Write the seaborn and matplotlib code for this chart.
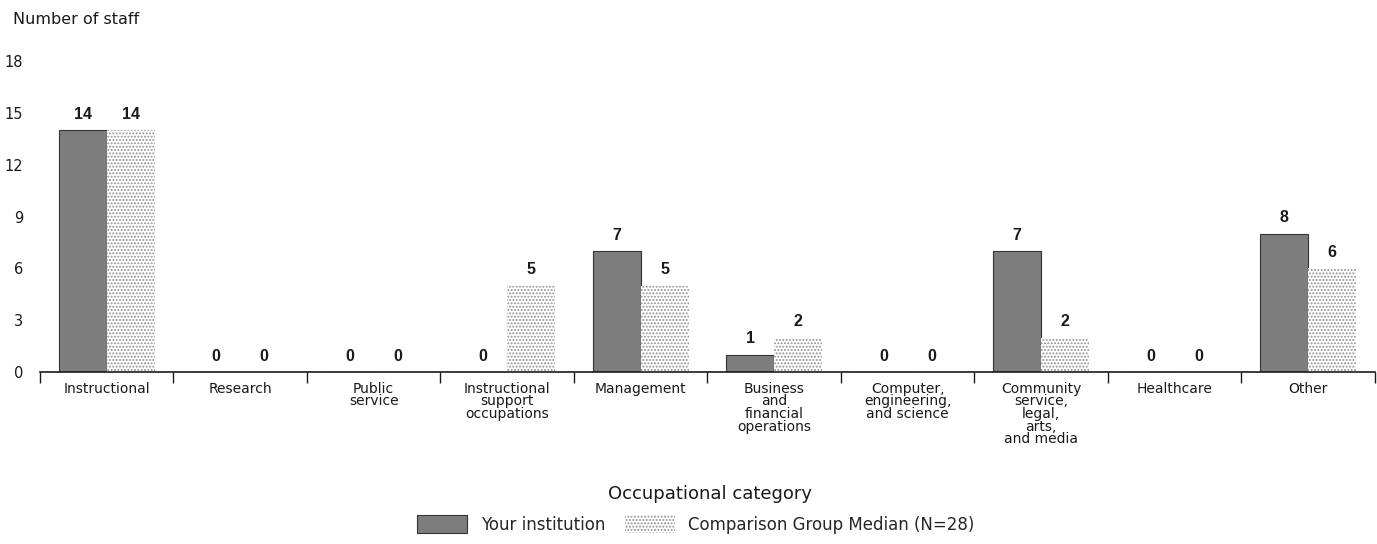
import matplotlib
matplotlib.use("Agg")
import matplotlib.pyplot as plt
import seaborn as sns
import pandas as pd
from matplotlib.ticker import FixedLocator, NullFormatter
from matplotlib.patches import Patch

categories = ["Instructional", "Research", "Public\nservice",
              "Instructional\nsupport\noccupations", "Management",
              "Business\nand\nfinancial\noperations",
              "Computer,\nengineering,\nand science",
              "Community\nservice,\nlegal,\narts,\nand media",
              "Healthcare", "Other"]
your_institution = [14, 0, 0, 0, 7, 1, 0, 7, 0, 8]
comparison_median = [14, 0, 0, 5, 5, 2, 0, 2, 0, 6]
series_names = ["Your institution", "Comparison Group Median (N=28)"]
y_ticks = [0, 3, 6, 9, 12, 15, 18]

sns.set_style("white")
plt.rcParams['font.family'] = ['DejaVu Sans']
plt.rcParams['hatch.linewidth'] = 0.9

df = pd.DataFrame({
    "category": categories * 2,
    "value": your_institution + comparison_median,
    "series": [series_names[0]] * len(categories) + [series_names[1]] * len(categories),
})

DARK = "#7d7d7d"
HATCH = "#8f8f8f"

fig = plt.figure(figsize=(13.77, 5.44), dpi=100)
ax = fig.add_axes([0.029, 0.316, 0.9695, 0.572])

sns.barplot(data=df, x="category", y="value", hue="series",
            palette=[DARK, "#ffffff"], width=0.72, ax=ax,
            legend=False, saturation=1)

cont_dark, cont_light = ax.containers[0], ax.containers[1]
for p in cont_dark:
    p.set_edgecolor("#333333")
    p.set_linewidth(0.8)
for p in cont_light:
    p.set_facecolor("white")
    p.set_edgecolor(HATCH)
    p.set_hatch(".....")
    p.set_linewidth(0)

for c in ax.containers:
    ax.bar_label(c, padding=6, fontsize=11.5, color="#1a1a1a",
                 fontfamily="Liberation Sans", fontweight="bold")

ax.set_ylim(0, 18)
ax.set_xlim(-0.5, len(categories) - 0.5)
ax.set_yticks(y_ticks)
ax.tick_params(axis="y", length=0, pad=12, labelsize=10.5, colors="#1a1a1a")
ax.set_xticks(range(len(categories)))
ax.set_xticklabels(categories, linespacing=0.87)
ax.tick_params(axis="x", which="major", length=0, pad=7, labelsize=10, colors="#1a1a1a")
ax.xaxis.set_minor_locator(FixedLocator([i - 0.5 for i in range(len(categories) + 1)]))
ax.xaxis.set_minor_formatter(NullFormatter())
ax.tick_params(axis="x", which="minor", length=8, width=1, color="#1a1a1a", bottom=True)

for s in ["top", "right", "left"]:
    ax.spines[s].set_visible(False)
ax.spines["bottom"].set_color("#1a1a1a")
ax.spines["bottom"].set_linewidth(1.2)

ax.set_xlabel("")
ax.set_ylabel("")
fig.text(0.5156, 0.092, "Occupational category", ha="center", va="center",
         fontsize=13, color="#1a1a1a")
fig.text(0.0095, 0.965, "Number of staff", ha="left", va="center",
         fontsize=11.5, color="#1a1a1a")

handles = [Patch(facecolor=DARK, edgecolor="#333333", linewidth=0.8),
           Patch(facecolor="white", edgecolor=HATCH, hatch=".....", linewidth=0)]
fig.legend(handles, series_names, loc="center", bbox_to_anchor=(0.5055, 0.036),
           ncol=2, frameon=False, fontsize=12, handlelength=3.0, handleheight=1.3,
           columnspacing=1.2, handletextpad=0.8)

fig.savefig("out.png", dpi=100)
